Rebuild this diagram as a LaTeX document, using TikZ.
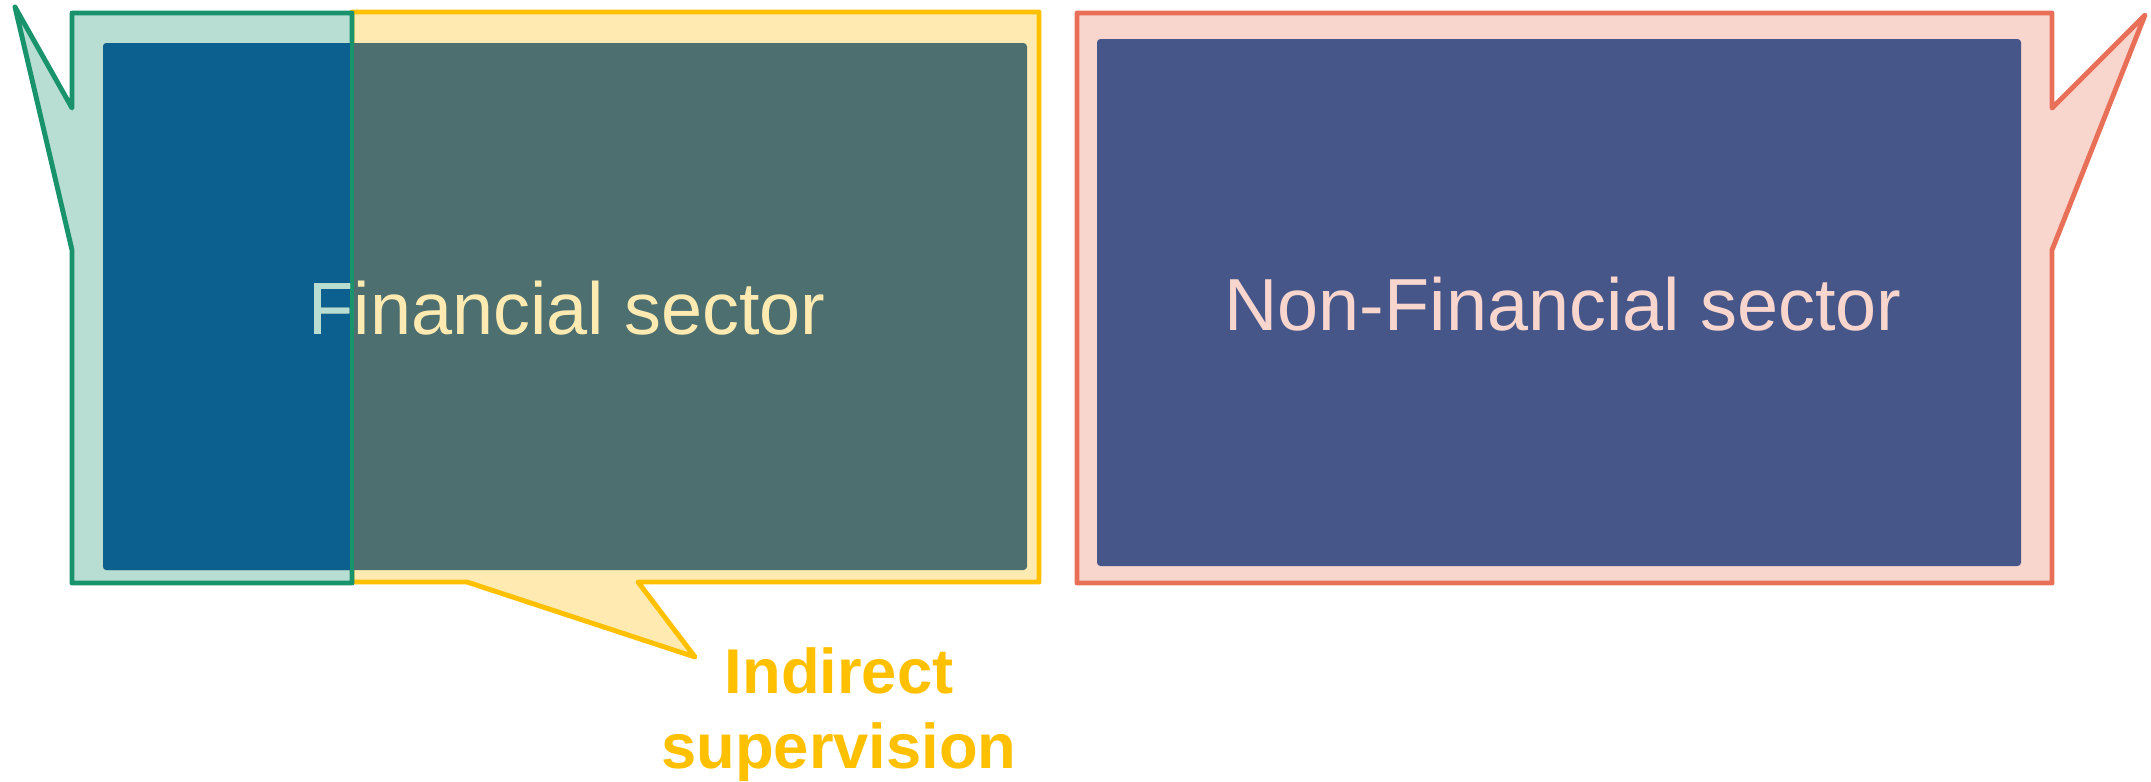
\documentclass[tikz,border=0pt]{standalone}
\usepackage{fontspec}
\setmainfont{Liberation Sans}

\definecolor{grline}{HTML}{18936C}
\definecolor{grfill}{HTML}{B8DDD2}
\definecolor{yeline}{HTML}{FFC000}
\definecolor{yefill}{HTML}{FFEBB1}
\definecolor{reline}{HTML}{E97058}
\definecolor{refill}{HTML}{F8D5CD}
\definecolor{finblue}{HTML}{0B6090}
\definecolor{finteal}{HTML}{4E6F6F}
\definecolor{nonfin}{HTML}{465689}

\begin{document}
\begin{tikzpicture}[
    callout/.style={line width=1.4pt, line join=round},
    sector/.style={font=\fontsize{21}{25}\selectfont, inner sep=0pt, anchor=base},
  ]
    \useasboundingbox (0, 0) rectangle (21.51, -7.81);

    % 吹き出し
    \filldraw[callout, draw=yeline, fill=yefill] (3.52, -0.12) -- (10.39, -0.12) -- (10.39, -5.82)
      -- (6.38, -5.82) -- (6.95, -6.57) -- (4.67, -5.82) -- (3.52, -5.82) -- cycle;
    \filldraw[callout, draw=grline, fill=grfill] (0.72, -0.13) -- (3.52, -0.13) -- (3.52, -5.83)
      -- (0.72, -5.83) -- (0.72, -2.50) -- (0.15, -0.07) -- (0.72, -1.08) -- cycle;
    \filldraw[callout, draw=reline, fill=refill] (10.77, -0.13) -- (20.52, -0.13) -- (20.52, -1.08)
      -- (21.45, -0.15) -- (20.52, -2.50) -- (20.52, -5.83) -- (10.77, -5.83) -- cycle;

    % 色を塗る
    \fill[finteal, rounded corners=1pt] (1.03, -0.43) rectangle (10.27, -5.70);
    \fill[finblue] (1.03, -0.43) [rounded corners=1pt] -- (1.03, -5.70) [sharp corners] -- (3.52, -5.70)
      -- (3.52, -0.43) [rounded corners=1pt] -- cycle;
    \fill[nonfin, rounded corners=1pt] (10.97, -0.39) rectangle (20.21, -5.66);
    \draw[callout, grline] (3.52, -0.13) -- (3.52, -5.83);

    % 文字を入れる
    \node[sector, text=yefill] (fin) at (5.67, -3.34) {Financial sector};
    \begin{scope}
      \clip (1.03, -0.43) rectangle (3.50, -5.70);
      \node[sector, text=grfill] (finleft) at (5.67, -3.34) {Financial sector};
    \end{scope}
    \node[sector, text=refill] (nonfin) at (15.63, -3.30) {Non-Financial sector};
    \node[anchor=base, align=center, inner sep=0pt, text=yeline,
      font=\fontsize{18}{21.3}\selectfont\bfseries] (indirect) at (8.39, -7.68) {Indirect\\supervision};

\end{tikzpicture}
\end{document}
